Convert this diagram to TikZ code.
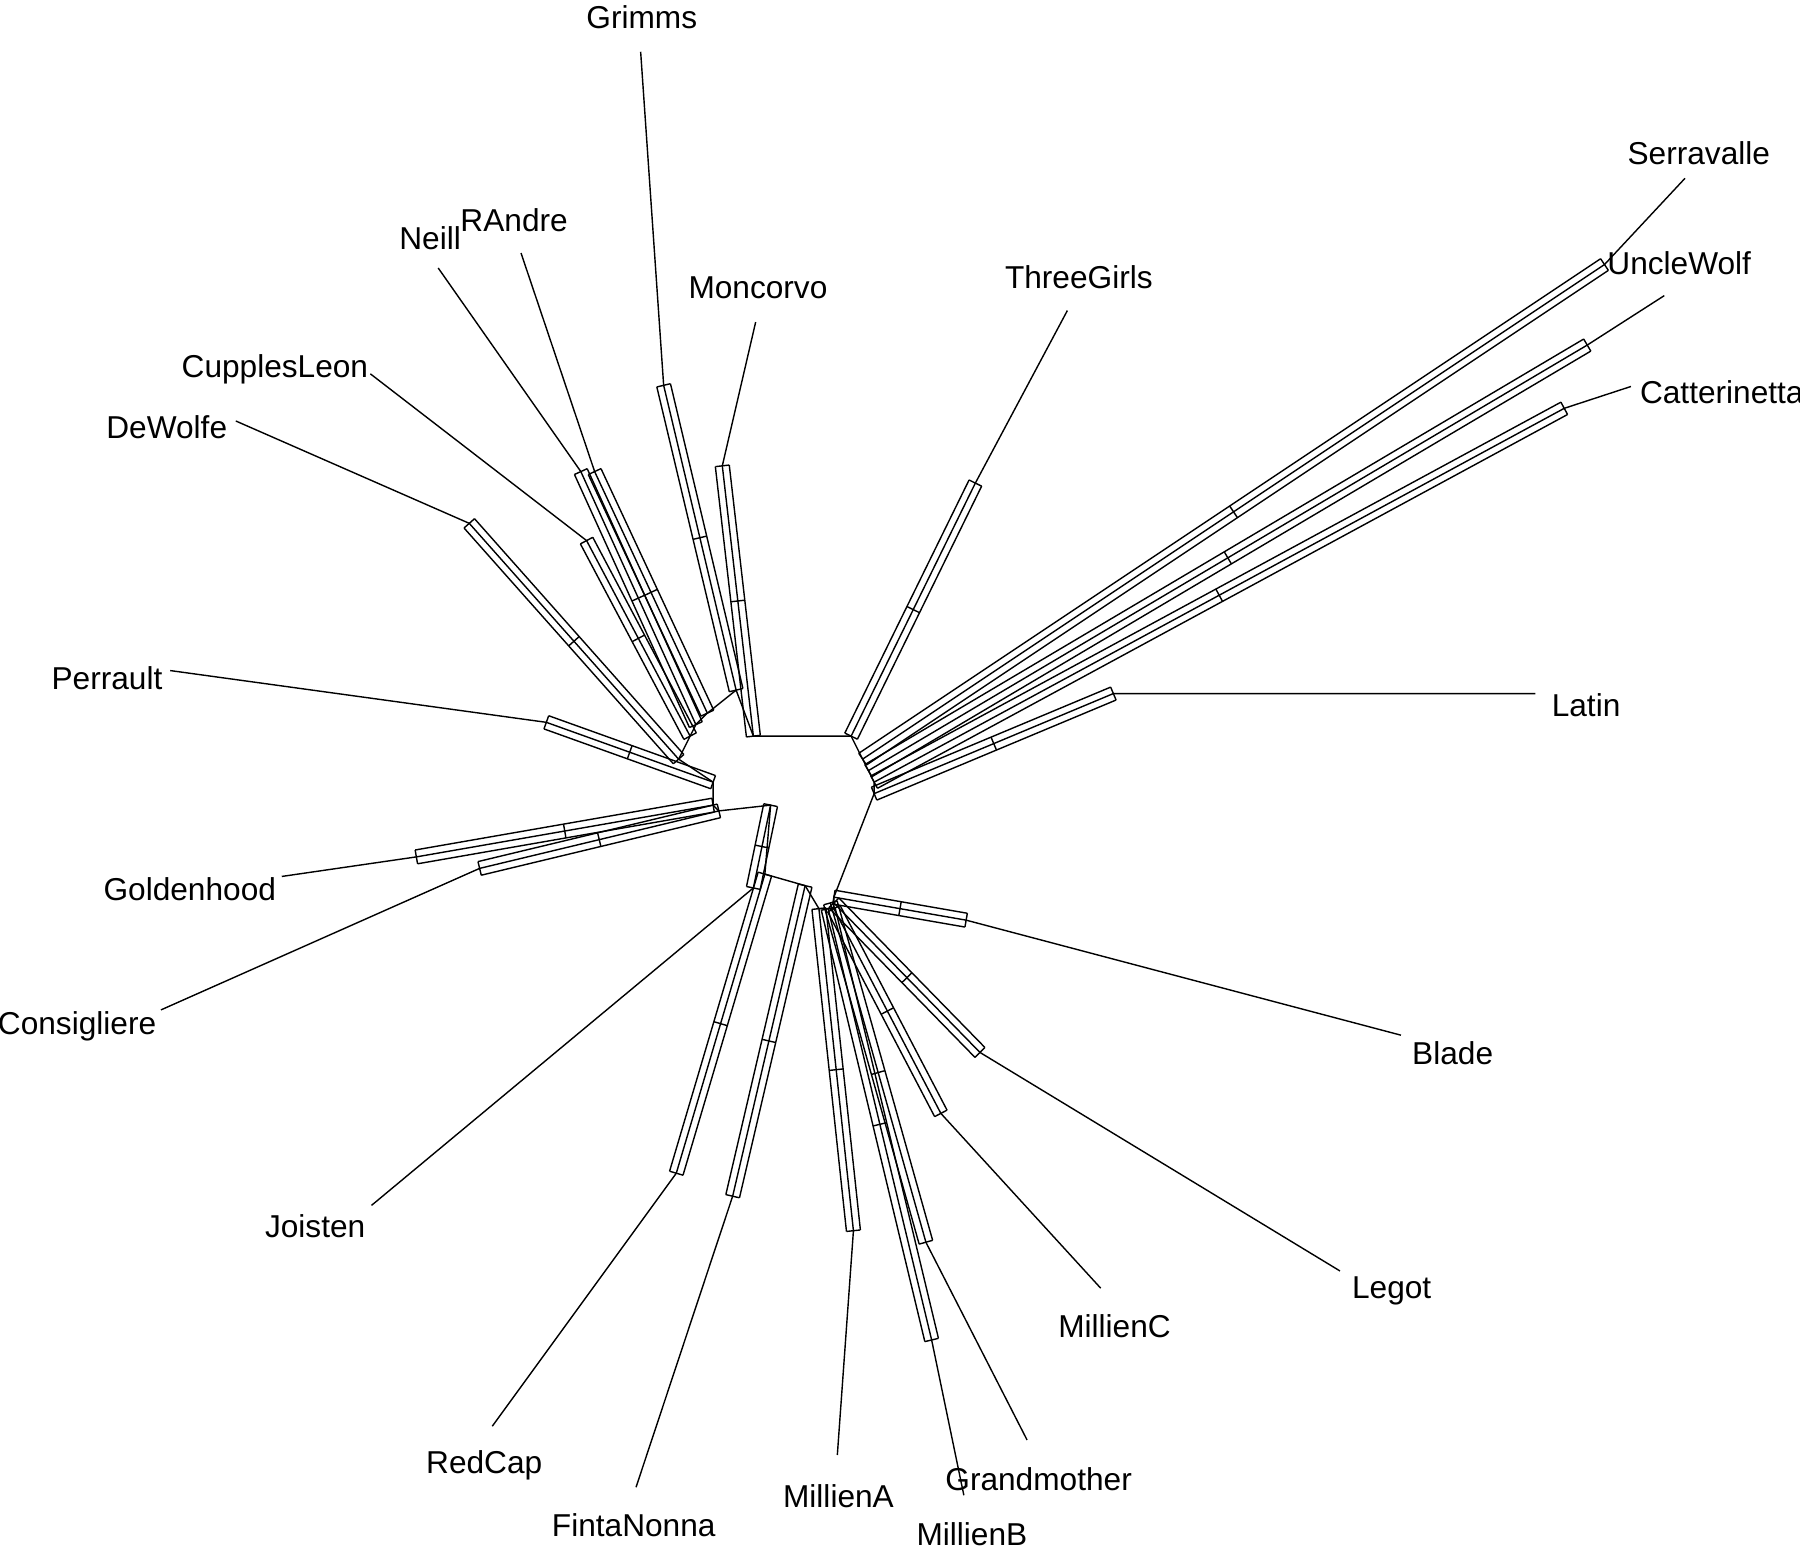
\documentclass[tikz,border=0pt]{standalone}
\usepackage{fontspec}
\setmainfont{Liberation Sans}
\usetikzlibrary{calc}
\begin{document}
\begin{tikzpicture}[x=1.15cm,y=-1.15cm,line width=0.4pt,
  taxon/.style={font=\fontsize{9}{11}\selectfont,inner sep=0pt}]
\useasboundingbox (0,0) rectangle (15.65,13.5);
% taxa: name/label/outer/attach/inner
\foreach \n/\lx/\ly/\ox/\oy/\ax/\ay/\ix/\iy in {
 Grimms/5.58/0.15/5.57/0.45/5.77/3.35/6.40/6.00,
 RAndre/4.47/1.91/4.53/2.20/5.17/4.10/6.15/6.20,
 Neill/3.74/2.07/3.81/2.33/5.05/4.10/6.05/6.30,
 Moncorvo/6.59/2.50/6.57/2.80/6.28/4.05/6.55/6.40,
 ThreeGirls/9.38/2.41/9.28/2.70/8.48/4.20/7.40/6.40,
 CupplesLeon/2.39/3.21/3.22/3.25/5.10/4.70/6.00/6.40,
 DeWolfe/1.45/3.71/2.05/3.66/4.08/4.55/5.90/6.60,
 Serravalle/14.77/1.33/14.65/1.55/13.95/2.30/7.50/6.60,
 UncleWolf/14.60/2.29/14.47/2.57/13.80/3.00/7.55/6.70,
 Catterinetta/14.97/3.41/14.18/3.36/13.60/3.55/7.60/6.80,
 Latin/13.79/6.13/13.35/6.03/9.68/6.03/7.60/6.90,
 Perrault/0.93/5.90/1.48/5.83/4.75/6.28/6.20/6.80,
 Goldenhood/1.65/7.73/2.45/7.62/3.62/7.45/6.20/7.00,
 Consigliere/0.67/8.92/1.40/8.78/4.17/7.55/6.25/7.05,
 Joisten/2.74/10.66/3.23/10.48/6.55/7.72/6.70/7.00,
 RedCap/4.21/12.74/4.28/12.40/5.88/10.20/6.65/7.60,
 FintaNonna/5.51/13.26/5.53/12.93/6.37/10.40/7.00/7.70,
 MillienA/7.29/13.01/7.28/12.65/7.42/10.70/7.12/7.90,
 MillienB/8.45/13.34/8.38/13.00/8.10/11.65/7.20/7.90,
 Grandmother/9.03/12.86/8.93/12.52/8.05/10.80/7.22/7.85,
 MillienC/9.69/11.53/9.57/11.20/8.18/9.68/7.25/7.90,
 Legot/12.10/11.22/11.65/11.05/8.52/9.15/7.25/7.85,
 Blade/12.63/9.16/12.18/9.00/8.40/8.00/7.25/7.80}
{
 \node[taxon] (\n) at (\lx,\ly) {\n};
 \coordinate (\n-o) at (\ox,\oy);
 \coordinate (\n-a) at (\ax,\ay);
 \coordinate (\n-i) at (\ix,\iy);
 \draw (\n-o) -- (\n-a) -- (\n-i);
 \draw ($(\n-a)!0.07cm!90:(\n-i)$) coordinate (\n-p1) -- ($(\n-i)!0.07cm!-90:(\n-a)$) coordinate (\n-p2);
 \draw ($(\n-a)!0.07cm!-90:(\n-i)$) coordinate (\n-q1) -- ($(\n-i)!0.07cm!90:(\n-a)$) coordinate (\n-q2);
 \draw (\n-p1) -- (\n-q1) (\n-p2) -- (\n-q2);
 \draw ($(\n-p1)!0.5!(\n-p2)$) -- ($(\n-q1)!0.5!(\n-q2)$);
}
% central mesh
\draw (DeWolfe-i) -- (CupplesLeon-i) -- (Neill-i) -- (RAndre-i) -- (Grimms-i) -- (Moncorvo-i) -- (ThreeGirls-i) -- (Serravalle-i) -- (UncleWolf-i) -- (Catterinetta-i) -- (Latin-i) -- (Blade-i) -- (Legot-i) -- (MillienC-i) -- (MillienB-i) -- (MillienA-i) -- (FintaNonna-i) -- (RedCap-i) -- (Joisten-i) -- (Consigliere-i) -- (Goldenhood-i) -- (Perrault-i) -- cycle;
\end{tikzpicture}
\end{document}
